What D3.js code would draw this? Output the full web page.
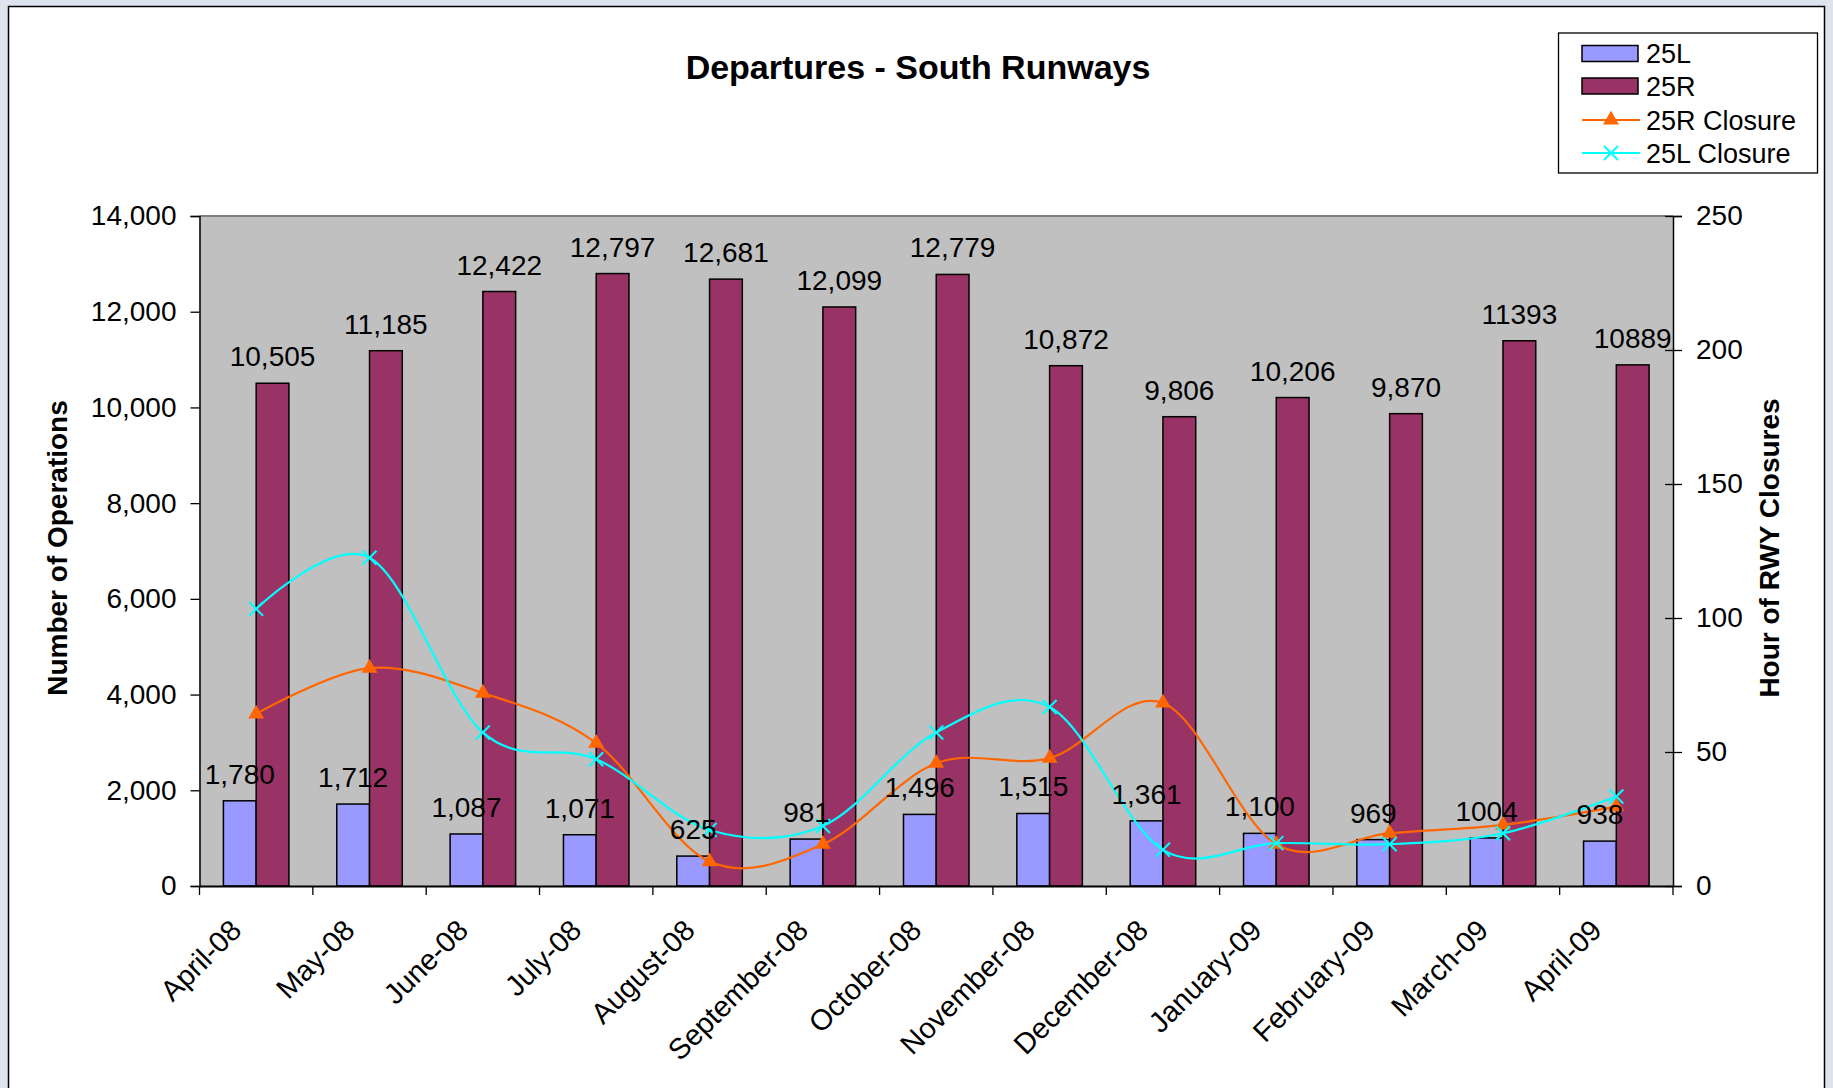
<!DOCTYPE html>
<html>
<head>
<meta charset="utf-8">
<script src="https://cdn.jsdelivr.net/npm/d3@7"></script>
<style>
  html, body { margin: 0; padding: 0; background: #ffffff; }
  svg { display: block; }
  text { font-family: "Liberation Sans", Arial, Helvetica, sans-serif; fill: #000; }
</style>
</head>
<body>
<svg id="chart" width="1833" height="1088"></svg>
<script>
// ---------------- DATA ----------------
const categories = ["April-08", "May-08", "June-08", "July-08", "August-08", "September-08",
  "October-08", "November-08", "December-08", "January-09", "February-09", "March-09", "April-09"];
const series25L = [1780, 1712, 1087, 1071, 625, 981, 1496, 1515, 1361, 1100, 969, 1004, 938];
const series25R = [10505, 11185, 12422, 12797, 12681, 12099, 12779, 10872, 9806, 10206, 9870, 11393, 10889];
const labels25L = ["1,780", "1,712", "1,087", "1,071", "625", "981", "1,496", "1,515", "1,361", "1,100", "969", "1004", "938"];
const labels25R = ["10,505", "11,185", "12,422", "12,797", "12,681", "12,099", "12,779", "10,872", "9,806", "10,206", "9,870", "11393", "10889"];
const closure25R = [64.2, 81.3, 72.0, 53.3, 9.1, 15.6, 45.8, 47.7, 68.3, 15.6, 19.7, 22.8, 29.6];
const closure25L = [103.4, 122.5, 57.3, 47.3, 20.9, 22.4, 57.3, 66.8, 13.5, 16.0, 15.6, 19.7, 33.4];
const leftTicks = [0, 2000, 4000, 6000, 8000, 10000, 12000, 14000];
const rightTicks = [0, 50, 100, 150, 200, 250];
const legendNames = ["25L", "25R", "25R Closure", "25L Closure"];

// ---------------- LAYOUT ----------------
const svg = d3.select("#chart");
const W = 1833, H = 1088;
const plot = { left: 199.5, right: 1673, top: 216, bottom: 886 };
const colors = { L: "#9999FF", R: "#993366", cR: "#FF6600", cL: "#00FFFF", bg: "#C0C0C0" };

// page background strip + chart frame
svg.append("rect").attr("x", 0).attr("y", 0).attr("width", W).attr("height", H).attr("fill", "#dde4ee");
svg.append("rect").attr("x", 8.5).attr("y", 6.5).attr("width", 1816).attr("height", 1100)
  .attr("fill", "#ffffff").attr("stroke", "#000").attr("stroke-width", 1.5);

const x0 = d3.scaleBand().domain(categories).range([plot.left, plot.right]).paddingInner(0).paddingOuter(0);
const x1 = d3.scaleBand().domain(["25L", "25R"]).range([0, x0.bandwidth()]).paddingInner(0).paddingOuter(0.73);
const yL = d3.scaleLinear().domain([0, 14000]).range([plot.bottom, plot.top]);
const yR = d3.scaleLinear().domain([0, 250]).range([plot.bottom, plot.top]);

// plot background
svg.append("rect").attr("x", plot.left).attr("y", plot.top)
  .attr("width", plot.right - plot.left).attr("height", plot.bottom - plot.top)
  .attr("fill", colors.bg);
svg.append("line").attr("x1", plot.left).attr("x2", plot.right).attr("y1", plot.top).attr("y2", plot.top)
  .attr("stroke", "#808080").attr("stroke-width", 2);

// bars
const rows = categories.map((c, i) => ({ c, L: series25L[i], R: series25R[i], lL: labels25L[i], lR: labels25R[i] }));
const g = svg.append("g");
g.selectAll("rect.bl").data(rows).join("rect").attr("class", "bl")
  .attr("x", d => x0(d.c) + x1("25L")).attr("width", x1.bandwidth())
  .attr("y", d => yL(d.L)).attr("height", d => yL(0) - yL(d.L))
  .attr("fill", colors.L).attr("stroke", "#000").attr("stroke-width", 1.5);
g.selectAll("rect.br").data(rows).join("rect").attr("class", "br")
  .attr("x", d => x0(d.c) + x1("25R")).attr("width", x1.bandwidth())
  .attr("y", d => yL(d.R)).attr("height", d => yL(0) - yL(d.R))
  .attr("fill", colors.R).attr("stroke", "#000").attr("stroke-width", 1.5);

// axes
const axL = d3.axisLeft(yL).tickValues(leftTicks).tickFormat(d3.format(",")).tickSize(9).tickPadding(14);
const gL = svg.append("g").attr("transform", `translate(${plot.left},0)`).call(axL);
const axR = d3.axisRight(yR).tickValues(rightTicks).tickSize(9).tickPadding(14);
const gR = svg.append("g").attr("transform", `translate(${plot.right},0)`).call(axR);
gR.selectAll(".tick line").attr("x1", -8).attr("x2", 9);
const axB = d3.axisBottom(x0).tickSize(0).tickFormat("");
const gB = svg.append("g").attr("transform", `translate(0,${plot.bottom})`).call(axB);
[gL, gR, gB].forEach(a => {
  a.select(".domain").attr("stroke", "#000").attr("stroke-width", 1.5);
  a.selectAll(".tick line").attr("stroke", "#000").attr("stroke-width", 1.3);
  a.selectAll("text").style("font-size", "28px").attr("fill", "#000")
    .style("font-family", '"Liberation Sans", Arial, sans-serif');
});
gB.select(".domain").attr("stroke-width", 2);
// category separators on x axis
const seps = categories.map(c => x0(c)).concat([plot.right]);
svg.append("g").selectAll("line").data(seps).join("line")
  .attr("x1", d => d).attr("x2", d => d).attr("y1", plot.bottom).attr("y2", plot.bottom + 9)
  .attr("stroke", "#000").attr("stroke-width", 1.3);
// category labels
svg.append("g").selectAll("text").data(categories).join("text")
  .attr("transform", d => `translate(${x0(d) + x0.bandwidth() / 2 - 13},${plot.bottom + 46}) rotate(-45)`)
  .attr("text-anchor", "end").style("font-size", "29px").text(d => d);

// lines
const cx = c => x0(c) + x0.bandwidth() / 2;
const line = d3.line().curve(d3.curveCatmullRom.alpha(0)).x(d => cx(d.c)).y(d => yR(d.v));
const dR = categories.map((c, i) => ({ c, v: closure25R[i] }));
const dLc = categories.map((c, i) => ({ c, v: closure25L[i] }));
svg.append("path").datum(dR).attr("d", line).attr("fill", "none").attr("stroke", colors.cR).attr("stroke-width", 2.2);
svg.append("g").selectAll("path").data(dR).join("path")
  .attr("transform", d => `translate(${cx(d.c)},${yR(d.v)})`)
  .attr("d", d3.symbol().type(d3.symbolTriangle).size(110)).attr("fill", colors.cR);
svg.append("path").datum(dLc).attr("d", line).attr("fill", "none").attr("stroke", colors.cL).attr("stroke-width", 2.2);
svg.append("g").selectAll("path").data(dLc).join("path")
  .attr("transform", d => `translate(${cx(d.c)},${yR(d.v)}) rotate(45)`)
  .attr("d", d3.symbol().type(d3.symbolCross).size(1)).attr("fill", "none");
svg.append("g").selectAll("g").data(dLc).join("g")
  .attr("transform", d => `translate(${cx(d.c)},${yR(d.v)})`)
  .each(function () {
    const s = d3.select(this);
    s.append("line").attr("x1", -7).attr("y1", -7).attr("x2", 7).attr("y2", 7).attr("stroke", colors.cL).attr("stroke-width", 2);
    s.append("line").attr("x1", -7).attr("y1", 7).attr("x2", 7).attr("y2", -7).attr("stroke", colors.cL).attr("stroke-width", 2);
  });

// data labels
svg.append("g").selectAll("text").data(rows).join("text")
  .attr("x", d => x0(d.c) + x1("25L") + x1.bandwidth() / 2).attr("y", d => yL(d.L) - 17)
  .attr("text-anchor", "middle").style("font-size", "28px").text(d => d.lL);
svg.append("g").selectAll("text").data(rows).join("text")
  .attr("x", d => x0(d.c) + x1("25R") + x1.bandwidth() / 2).attr("y", d => yL(d.R) - 17)
  .attr("text-anchor", "middle").style("font-size", "28px").text(d => d.lR);

// titles
svg.append("text").attr("x", 918).attr("y", 79).attr("text-anchor", "middle")
  .style("font-size", "34px").style("font-weight", "bold").text("Departures - South Runways");
svg.append("text").attr("transform", "translate(67,548) rotate(-90)").attr("text-anchor", "middle")
  .style("font-size", "28px").style("font-weight", "bold").text("Number of Operations");
svg.append("text").attr("transform", "translate(1779,548) rotate(-90)").attr("text-anchor", "middle")
  .style("font-size", "28px").style("font-weight", "bold").text("Hour of RWY Closures");

// legend
const lg = svg.append("g");
lg.append("rect").attr("x", 1558.5).attr("y", 33).attr("width", 1259).attr("height", 140)
  .attr("width", 259).attr("fill", "#fff").attr("stroke", "#000").attr("stroke-width", 1.3);
const rowsY = [53.5, 86, 120, 153];
legendNames.forEach((name, i) => {
  const y = rowsY[i];
  if (i < 2) {
    lg.append("rect").attr("x", 1582).attr("y", y - 8).attr("width", 56).attr("height", 16)
      .attr("fill", i === 0 ? colors.L : colors.R).attr("stroke", "#000").attr("stroke-width", 1.5);
  } else {
    const col = i === 2 ? colors.cR : colors.cL;
    lg.append("line").attr("x1", 1582).attr("x2", 1640).attr("y1", y).attr("y2", y)
      .attr("stroke", col).attr("stroke-width", 2.2);
    if (i === 2) {
      lg.append("path").attr("transform", `translate(1611,${y})`)
        .attr("d", d3.symbol().type(d3.symbolTriangle).size(110)).attr("fill", col);
    } else {
      lg.append("line").attr("x1", 1604).attr("y1", y - 7).attr("x2", 1618).attr("y2", y + 7).attr("stroke", col).attr("stroke-width", 2);
      lg.append("line").attr("x1", 1604).attr("y1", y + 7).attr("x2", 1618).attr("y2", y - 7).attr("stroke", col).attr("stroke-width", 2);
    }
  }
  lg.append("text").attr("x", 1646).attr("y", y + 9.5).style("font-size", "27px").text(name);
});
</script>
</body>
</html>
